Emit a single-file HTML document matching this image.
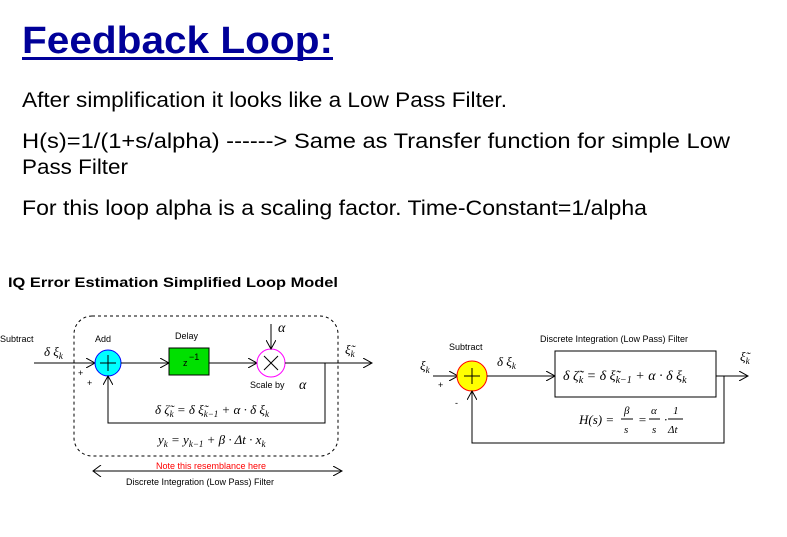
<!DOCTYPE html>
<html><head><meta charset="utf-8"><style>
body{margin:0;width:787px;height:537px;background:#fff;overflow:hidden;font-family:"Liberation Sans",sans-serif}
svg{position:absolute;left:0;top:0}
</style></head><body>
<svg width="787" height="537" viewBox="0 0 787 537" xmlns="http://www.w3.org/2000/svg" font-family="Liberation Sans, sans-serif">
<defs>
<marker id="a" markerWidth="10" markerHeight="10" refX="9" refY="5" orient="auto" markerUnits="userSpaceOnUse"><path d="M0,0 L9,5 L0,10" fill="none" stroke="#000" stroke-width="1"/></marker>
<marker id="b" markerWidth="10" markerHeight="12" refX="1" refY="6" orient="auto" markerUnits="userSpaceOnUse"><path d="M9,0 L1,6 L9,12" fill="none" stroke="#000" stroke-width="1"/></marker>
</defs>
<text x="22" y="53" font-size="38" font-weight="bold" fill="#000099" textLength="311" lengthAdjust="spacingAndGlyphs">Feedback Loop:</text>
<rect x="22" y="57" width="311" height="3" fill="#000099"/>
<g font-size="21" fill="#000">
<text x="22" y="107" textLength="485" lengthAdjust="spacingAndGlyphs">After simplification it looks like a Low Pass Filter.</text>
<text x="22" y="148" textLength="708" lengthAdjust="spacingAndGlyphs">H(s)=1/(1+s/alpha)   ------&gt; Same as Transfer function for simple Low</text>
<text x="22" y="174" textLength="106" lengthAdjust="spacingAndGlyphs">Pass Filter</text>
<text x="22" y="215" textLength="625" lengthAdjust="spacingAndGlyphs">For this loop alpha is a scaling factor.   Time-Constant=1/alpha</text>
</g>
<!-- Left diagram -->
<text x="8" y="287" font-size="14" font-weight="bold" textLength="330" lengthAdjust="spacingAndGlyphs">IQ Error Estimation Simplified Loop Model</text>
<rect x="74" y="316" width="264" height="140" rx="18" fill="none" stroke="#000" stroke-dasharray="3,3"/>
<g font-size="9">
<text x="0" y="342">Subtract</text><text x="95" y="342">Add</text><text x="175" y="339">Delay</text>
<text x="250" y="388">Scale by</text>
<text x="78" y="376">+</text><text x="87" y="386">+</text>
</g>
<line x1="34" y1="363" x2="95" y2="363" stroke="#000" marker-end="url(#a)"/>
<circle cx="108" cy="363" r="13" fill="#00ffff" stroke="#0000ff"/>
<path d="M100,363 H116 M108,355 V371" stroke="#000"/>
<line x1="121" y1="363" x2="169" y2="363" stroke="#000" marker-end="url(#a)"/>
<rect x="169" y="348" width="40" height="27" fill="#00e000" stroke="#000"/>
<text x="183" y="366" font-size="9">z</text><text x="189" y="360" font-size="9">−1</text>
<line x1="209" y1="363" x2="257" y2="363" stroke="#000" marker-end="url(#a)"/>
<circle cx="271" cy="363" r="14" fill="#fff" stroke="#ff00ff"/>
<path d="M264,356 L278,370 M278,356 L264,370" stroke="#000"/>
<line x1="271" y1="324" x2="271" y2="349" stroke="#000" marker-end="url(#a)"/>
<line x1="285" y1="363" x2="372" y2="363" stroke="#000" marker-end="url(#a)"/>
<path d="M325,363 V423 H108 V376" fill="none" stroke="#000" marker-end="url(#a)"/>
<line x1="93" y1="471" x2="342" y2="471" stroke="#000" marker-start="url(#b)" marker-end="url(#a)"/>
<text x="156" y="469" font-size="9" fill="#ff0000">Note this resemblance here</text>
<text x="126" y="485" font-size="9">Discrete Integration (Low Pass) Filter</text>
<!-- Right diagram shapes -->
<line x1="433" y1="376" x2="458" y2="376" stroke="#000" marker-end="url(#a)"/>
<circle cx="472" cy="376" r="15" fill="#ffff00" stroke="#ff0000"/>
<path d="M464,376 H480 M472,368 V384" stroke="#000"/>
<line x1="487" y1="376" x2="555" y2="376" stroke="#000" marker-end="url(#a)"/>
<rect x="555" y="351" width="161" height="46" fill="#fff" stroke="#000"/>
<line x1="716" y1="376" x2="748" y2="376" stroke="#000" marker-end="url(#a)"/>
<path d="M724,376 V443 H472 V391" fill="none" stroke="#000" marker-end="url(#a)"/>
<g font-size="9">
<text x="449" y="350">Subtract</text>
<text x="540" y="342">Discrete Integration (Low Pass) Filter</text>
<text x="438" y="388">+</text><text x="455" y="406">-</text>
</g>
<g font-family="Liberation Serif, serif" font-style="italic">
<text x="44" y="356" font-size="13">δ ξ<tspan font-size="9" dy="3">k</tspan></text>
<text x="278" y="332" font-size="14">α</text>
<text x="299" y="389" font-size="14">α</text>
<text x="345" y="354" font-size="13">ξ̃<tspan font-size="9" dy="3">k</tspan></text>
<text x="155" y="414" font-size="13">δ ζ̃<tspan font-size="9" dy="3">k</tspan><tspan dy="-3"> = δ ξ̃</tspan><tspan font-size="9" dy="3">k−1</tspan><tspan dy="-3"> + α · δ ξ</tspan><tspan font-size="9" dy="3">k</tspan></text>
<text x="158" y="444" font-size="13">y<tspan font-size="9" dy="3">k</tspan><tspan dy="-3"> = y</tspan><tspan font-size="9" dy="3">k−1</tspan><tspan dy="-3"> + β · Δt · x</tspan><tspan font-size="9" dy="3">k</tspan></text>
<text x="420" y="370" font-size="13">ξ<tspan font-size="9" dy="3">k</tspan></text>
<text x="497" y="366" font-size="13">δ ξ<tspan font-size="9" dy="3">k</tspan></text>
<text x="740" y="361" font-size="13">ξ̃<tspan font-size="9" dy="3">k</tspan></text>
<text x="563" y="380" font-size="14">δ ζ̃<tspan font-size="10" dy="3">k</tspan><tspan dy="-3"> = δ ξ̃</tspan><tspan font-size="10" dy="3">k−1</tspan><tspan dy="-3"> + α · δ ξ</tspan><tspan font-size="10" dy="3">k</tspan></text>
<text x="579" y="424" font-size="13">H(s) =</text>
<text x="624" y="414" font-size="11">β</text><line x1="621" y1="419" x2="633" y2="419" stroke="#000"/><text x="624" y="433" font-size="11">s</text>
<text x="638" y="424" font-size="13">=</text>
<text x="651" y="414" font-size="11">α</text><line x1="649" y1="419" x2="660" y2="419" stroke="#000"/><text x="652" y="433" font-size="11">s</text>
<text x="664" y="424" font-size="13">·</text>
<text x="673" y="414" font-size="11">1</text><line x1="668" y1="419" x2="683" y2="419" stroke="#000"/><text x="668" y="433" font-size="11">Δt</text>
</g>
</svg>
</body></html>
